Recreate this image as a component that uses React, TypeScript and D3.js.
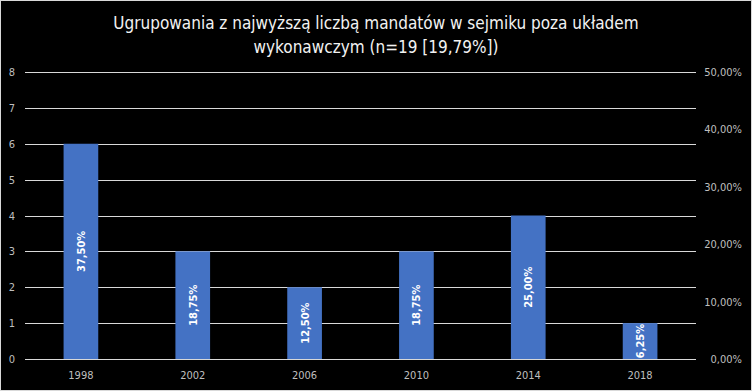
import React from "react";
import * as d3 from "d3";

const categories = ["1998", "2002", "2006", "2010", "2014", "2018"];
const values = [6, 3, 2, 3, 4, 1];
const labels = ["37,50%", "18,75%", "12,50%", "18,75%", "25,00%", "6,25%"];
const leftTicks = [0, 1, 2, 3, 4, 5, 6, 7, 8];
const rightTicks = [0, 0.1, 0.2, 0.3, 0.4, 0.5];
const titleLines = [
  "Ugrupowania z najwyższą liczbą mandatów w sejmiku poza układem",
  "wykonawczym (n=19 [19,79%])",
];

const W = 752;
const H = 391;
const FONT = "'DejaVu Sans Condensed', 'Liberation Sans Narrow', 'Open Sans', sans-serif";

export default function App() {
  const x = d3.scaleBand<string>().domain(categories).range([25, 696]).paddingInner(0.69).paddingOuter(0.345);
  const y = d3.scaleLinear().domain([0, 8]).range([359, 72]);
  const yR = d3.scaleLinear().domain([0, 0.5]).range([359, 72]);
  const fmtPct = (v: number) => (v * 100).toFixed(2).replace(".", ",") + "%";

  return (
    <svg width={W} height={H} style={{ position: "absolute", left: 0, top: 0 }} fontFamily={FONT}>
      <rect x={0} y={0} width={W} height={H} fill="#000" />
      <rect x={0.5} y={0.5} width={W - 1} height={H - 1} fill="none" stroke="#d9d9d9" strokeWidth={1} />
      {titleLines.map((t, i) => (
        <text key={i} x={376} y={29 + i * 24} textAnchor="middle" fill="#f2f2f2" fontSize={17}>
          {t}
        </text>
      ))}
      {leftTicks.map((t) => (
        <g key={t}>
          <line x1={25} x2={696} y1={Math.round(y(t)) + 0.5} y2={Math.round(y(t)) + 0.5} stroke="#d9d9d9" strokeWidth={1} />
          <text x={12} y={y(t) + 4} textAnchor="middle" fill="#bfbfbf" fontSize={11}>
            {t}
          </text>
        </g>
      ))}
      {rightTicks.map((t) => (
        <text key={t} x={742} y={yR(t) + 4} textAnchor="end" fill="#bfbfbf" fontSize={11}>
          {fmtPct(t)}
        </text>
      ))}
      {categories.map((c, i) => {
        const bx = x(c)!;
        const bw = x.bandwidth();
        const top = y(values[i]);
        const cy = (top + y(0)) / 2;
        const cx = bx + bw / 2;
        return (
          <g key={c}>
            <rect x={bx} y={top} width={bw} height={y(0) - top} fill="#4472c4" />
            <text
              transform={`translate(${cx + 4},${cy}) rotate(-90)`}
              textAnchor="middle"
              fill="#fff"
              fontSize={11}
              fontWeight="bold"
            >
              {labels[i]}
            </text>
            <text x={cx} y={379} textAnchor="middle" fill="#bfbfbf" fontSize={11}>
              {c}
            </text>
          </g>
        );
      })}
    </svg>
  );
}
